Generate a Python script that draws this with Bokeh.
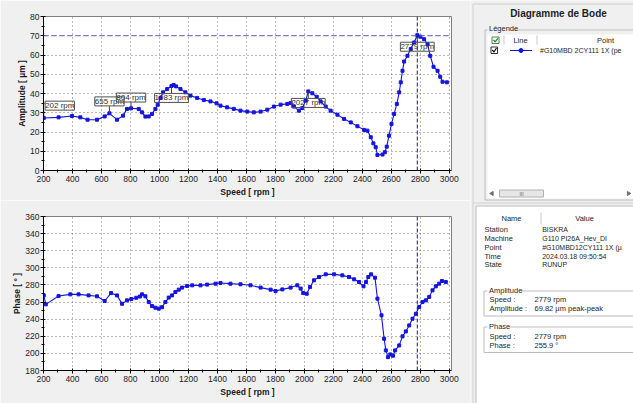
import numpy as np
from bokeh.plotting import figure
from bokeh.models import Range1d, SingleIntervalTicker, Span, ColumnDataSource, LabelSet
from bokeh.layouts import row, column
from bokeh.embed import file_html
from bokeh.resources import INLINE
from bokeh.core.properties import value

# ---------------- data ----------------
speed_amp = [202, 304, 396, 454, 504, 569, 622, 655, 707, 749, 776, 804, 857, 880, 903, 926, 949,
             972, 988, 1007, 1025, 1053, 1083, 1098, 1115, 1145, 1179, 1214, 1260, 1306, 1352, 1394,
             1421, 1467, 1513, 1559, 1606, 1651, 1698, 1744, 1790, 1836, 1882, 1905, 1928, 1962,
             1986, 2009, 2027, 2055, 2085, 2112, 2147, 2181, 2228, 2274, 2320, 2366, 2412, 2435,
             2458, 2476, 2492, 2504, 2539, 2555, 2568, 2584, 2601, 2619, 2638, 2654, 2665, 2677,
             2688, 2711, 2734, 2757, 2779, 2800, 2826, 2850, 2868, 2891, 2919, 2937, 2953, 2983]
amplitude = [27.3, 27.6, 28.3, 27.6, 26.4, 26.4, 28.1, 29.7, 26.4, 28.5, 32.0, 32.3, 32.0, 30.2, 28.0,
             28.1, 29.4, 32.0, 34.2, 37.7, 40.6, 42.3, 43.9, 44.4, 43.7, 42.3, 40.6, 38.9, 37.7, 36.6,
             35.9, 34.9, 33.7, 32.8, 32.0, 31.1, 30.6, 30.2, 30.6, 31.6, 33.2, 34.2, 34.6, 35.1, 33.2,
             31.1, 32.5, 36.3, 41.1, 40.1, 38.3, 35.9, 33.2, 31.1, 29.0, 26.8, 25.0, 23.0, 21.1, 20.7,
             17.3, 14.1, 12.1, 8.1, 8.3, 9.5, 12.4, 18.1, 24.2, 29.4, 34.6, 40.6, 45.8, 51.8, 56.6,
             59.6, 63.1, 66.5, 70.3, 69.5, 68.2, 65.6, 59.6, 53.9, 51.8, 48.7, 46.1, 45.8]

speed_ph = [202, 216, 304, 385, 442, 511, 569, 622, 666, 707, 742, 776, 806, 840, 865, 880, 903, 926,
            949, 972, 995, 1018, 1041, 1064, 1087, 1110, 1133, 1156, 1191, 1226, 1283, 1329, 1387,
            1421, 1490, 1559, 1628, 1698, 1767, 1801, 1848, 1905, 1951, 1974, 1992, 2016, 2039, 2066,
            2101, 2147, 2205, 2262, 2308, 2343, 2377, 2408, 2425, 2441, 2460, 2487, 2504, 2532, 2550,
            2562, 2577, 2593, 2611, 2626, 2654, 2677, 2700, 2723, 2746, 2769, 2792, 2815, 2838, 2861,
            2884, 2907, 2930, 2949, 2976]
phase = [267.8, 257.3, 267.0, 269.0, 269.0, 267.8, 266.7, 261.2, 270.5, 267.8, 258.0, 262.0, 263.5,
         265.0, 266.5, 269.0, 266.7, 260.0, 255.3, 253.4, 252.3, 254.0, 260.0, 265.2, 267.8, 271.7,
         274.5, 276.9, 278.8, 279.5, 279.5, 280.4, 281.5, 282.3, 281.5, 280.8, 279.6, 276.9, 274.5,
         272.9, 274.8, 276.9, 279.6, 275.7, 270.5, 269.7, 277.6, 285.4, 289.3, 292.4, 292.4, 291.2,
         289.3, 286.6, 283.4, 278.4, 283.4, 289.3, 292.4, 288.5, 264.0, 244.5, 217.2, 203.5, 195.6,
         198.8, 197.3, 203.5, 209.3, 219.9, 225.7, 232.7, 240.5, 246.3, 254.2, 260.0, 262.0, 266.0,
         273.7, 278.4, 281.5, 284.6, 283.4]

label_speed = [202, 655, 804, 1083, 2027, 2779]
label_box_amp = [33.7, 35.9, 37.9, 37.7, 35.1, 64.3]
label_text = [f"{s} rpm" for s in label_speed]

cursor_speed = 2779
alarm_level = 70

info_names = ["Station", "Machine", "Point", "Time", "State"]
info_values = ["BISKRA", "G110 PI26A_Hev_DI", "#G10MBD12CY111 1X (\u00b5", "2024.03.18 09:50:54", "RUNUP"]
amp_names = ["Speed :", "Amplitude :"]
amp_values = ["2779 rpm", "69.82 \u00b5m peak-peak"]
ph_names = ["Speed :", "Phase :"]
ph_values = ["2779 rpm", "255.9 \u00b0"]
legend_point = "#G10MBD 2CY111 1X (pe"

# ---------------- styles ----------------
BLUE = "#1414e0"
BG = "#f0f0f0"
FONT = "Liberation Sans"


def style(p, ylabel, ystep):
    p.xaxis.axis_label = "Speed [ rpm ]"
    p.yaxis.axis_label = ylabel
    p.xaxis.ticker = SingleIntervalTicker(interval=200, num_minor_ticks=2)
    p.yaxis.ticker = SingleIntervalTicker(interval=ystep, num_minor_ticks=2)
    p.xgrid.ticker = SingleIntervalTicker(interval=200)
    p.ygrid.ticker = SingleIntervalTicker(interval=ystep)
    for ax in (p.xaxis[0], p.yaxis[0]):
        ax.axis_label_text_font = FONT
        ax.axis_label_text_font_style = "bold"
        ax.axis_label_text_font_size = "8.5px"
        ax.axis_label_text_color = "#1a1a1a"
        ax.major_label_text_font = FONT
        ax.major_label_text_font_size = "8.5px"
        ax.major_label_text_color = "#222222"
        ax.axis_line_color = "#000000"
        ax.major_tick_line_color = "#000000"
        ax.minor_tick_line_color = "#000000"
        ax.major_tick_in = 2
        ax.major_tick_out = 3
        ax.minor_tick_in = 1
        ax.minor_tick_out = 2
        ax.major_label_standoff = 2
    p.xaxis.axis_label_standoff = 2
    p.yaxis.axis_label_standoff = 0
    p.yaxis.major_label_standoff = 1
    p.grid.grid_line_dash = "1 3"
    p.grid.grid_line_color = "#707070"
    p.outline_line_color = "#808080"
    p.background_fill_color = "white"
    p.border_fill_color = BG


# ---------------- amplitude plot ----------------
p1 = figure(width=470, height=200, x_range=Range1d(200, 3015), y_range=Range1d(0, 80),
            output_backend="svg", toolbar_location=None,
            min_border_left=43, min_border_right=19, min_border_top=16, min_border_bottom=30)
style(p1, "Amplitude [ \u00b5m ]", 10)
p1.add_layout(Span(location=alarm_level, dimension="width", line_color="#5c5ce6",
                   line_dash="5 3", line_width=1))
p1.add_layout(Span(location=cursor_speed, dimension="height", line_color="#1a1a90",
                   line_dash="4 2", line_width=1))
p1.line(speed_amp, amplitude, line_color=BLUE, line_width=1.1)
p1.scatter(speed_amp, amplitude, marker="square", size=3, color=BLUE)

pt_amp = np.interp(label_speed, speed_amp, amplitude)
half = 2.5
stem_y0 = [b - half if a < b else b + half for a, b in zip(pt_amp, label_box_amp)]
p1.segment(x0=label_speed, x1=label_speed, y0=stem_y0, y1=list(pt_amp),
           line_color="#404040", line_width=1)
# first label would fall across the axis: nudge it inside the frame
label_dx = [16 if s == min(label_speed) else 0 for s in label_speed]
lsrc = ColumnDataSource(dict(x=label_speed, y=label_box_amp, t=label_text, dx=label_dx))
p1.add_layout(LabelSet(x="x", y="y", text="t", source=lsrc, x_offset="dx", text_align="center",
                       text_baseline="middle", text_font=value(FONT), text_font_size="8px",
                       text_color="#303030", border_line_color="#505050",
                       background_fill_color=None))

# ---------------- phase plot ----------------
p2 = figure(width=470, height=203, x_range=Range1d(200, 3015), y_range=Range1d(180, 360),
            output_backend="svg", toolbar_location=None,
            min_border_left=43, min_border_right=19, min_border_top=16, min_border_bottom=33)
style(p2, "Phase [ \u00b0 ]", 20)
p2.add_layout(Span(location=cursor_speed, dimension="height", line_color="#1a1a90",
                   line_dash="4 2", line_width=1))
p2.line(speed_ph, phase, line_color=BLUE, line_width=1.1)
p2.scatter(speed_ph, phase, marker="square", size=3, color=BLUE)

# ---------------- side panel ----------------
p3 = figure(width=163, height=403, x_range=Range1d(470, 633), y_range=Range1d(403, 0),
            output_backend="svg", toolbar_location=None, min_border=0,
            x_axis_location=None, y_axis_location=None,
            background_fill_color=BG, border_fill_color=BG, outline_line_color=None)
p3.grid.visible = False

# separators
p3.segment(x0=[472.5, 472.5, 472.5], y0=[3.5, 3.5, 202.5], x1=[472.5, 640, 640], y1=[403, 3.5, 202.5],
           line_color="#d0d0d0", line_width=1)


def txt(x, y, t, size="7.5px", bold=False, align="left", color="#1e1e1e"):
    p3.text(x=x, y=y, text=t, text_font=value(FONT), text_font_size=size,
            text_font_style="bold" if bold else "normal", text_align=align,
            text_baseline="middle", text_color=color)


txt([558], [13], ["Diagramme de Bode"], size="10px", bold=True, align="center")

# legend group box
p3.quad(left=[487], right=[640], top=[34], bottom=[198], fill_color="white", line_color=None)
p3.multi_line(xs=[[484.5, 484.5, 640], [484.5, 487], [513, 640]],
              ys=[[29.5, 199.5, 199.5], [29.5, 29.5], [29.5, 29.5]], line_color="#bcbcbc", line_width=1)
txt([488.5], [27.5], ["L\u00e9gende"])
# header row
p3.quad(left=[491.5], right=[498.5], top=[36.5], bottom=[43], fill_color="white", line_color="#3c8c3c")
p3.multi_line(xs=[[493, 494.7, 497.3]], ys=[[39.5, 41.3, 37.8]], line_color="#2a7a2a", line_width=1.2)
p3.segment(x0=[503.5, 536.5], x1=[503.5, 536.5], y0=[35, 35], y1=[44, 44], line_color="#c8c8c8")
txt([520], [39.5], ["Line"], align="center")
txt([605], [39.5], ["Point"], align="center")
# row 1
p3.quad(left=[490.5], right=[497], top=[46.5], bottom=[53], fill_color="white", line_color="#303030")
p3.multi_line(xs=[[491.8, 493.5, 496]], ys=[[49.5, 51.5, 47.5]], line_color="#111111", line_width=1.2)
p3.line([509.5, 531.5], [50, 50], line_color=BLUE, line_width=1.2)
p3.scatter([520.5], [50], marker="circle", size=4, color=BLUE)
txt([539.5], [50], [legend_point], size="7px")
# scrollbar
p3.quad(left=[499], right=[543], top=[189.5], bottom=[196.5], fill_color="#e6e6e6", line_color="#b0b0b0")
txt([521], [193], ["III"], size="5px", align="center", color="#606060")
p3.scatter([491.5], [193], marker="triangle", angle=np.pi / 2, size=4, color="#707070")
p3.scatter([628], [193], marker="triangle", angle=-np.pi / 2, size=4, color="#707070")

# info box
p3.quad(left=[475.5], right=[640], top=[205.5], bottom=[410], fill_color="white", line_color="#bcbcbc")
p3.segment(x0=[540.5], x1=[540.5], y0=[212], y1=[224], line_color="#c8c8c8")
txt([511], [218], ["Name"], align="center")
txt([584], [218], ["Value"], align="center")
row_y = [229.3, 238.3, 246.7, 255.7, 264.3]
txt([484] * 5, row_y, info_names)
txt([541.7] * 5, row_y, info_values, size="7px")

# amplitude group
p3.multi_line(xs=[[487, 483.5, 483.5, 640], [520, 640]],
              ys=[[290.5, 290.5, 315.5, 315.5], [290.5, 290.5]], line_color="#bcbcbc", line_width=1)
txt([488.5], [289.5], ["Amplitude"])
txt([489, 489], [299, 307.5], amp_names)
txt([534, 534], [299, 307.5], amp_values)
# phase group
p3.multi_line(xs=[[487, 483.5, 483.5, 640], [508, 640]],
              ys=[[326.5, 326.5, 352, 352], [326.5, 326.5]], line_color="#bcbcbc", line_width=1)
txt([488.5], [326], ["Phase"])
txt([489, 489], [336, 344.7], ph_names)
txt([534, 534], [336, 344.7], ph_values)

layout = row(column(p1, p2), p3)
open("out.html", "w").write(file_html(layout, INLINE))
